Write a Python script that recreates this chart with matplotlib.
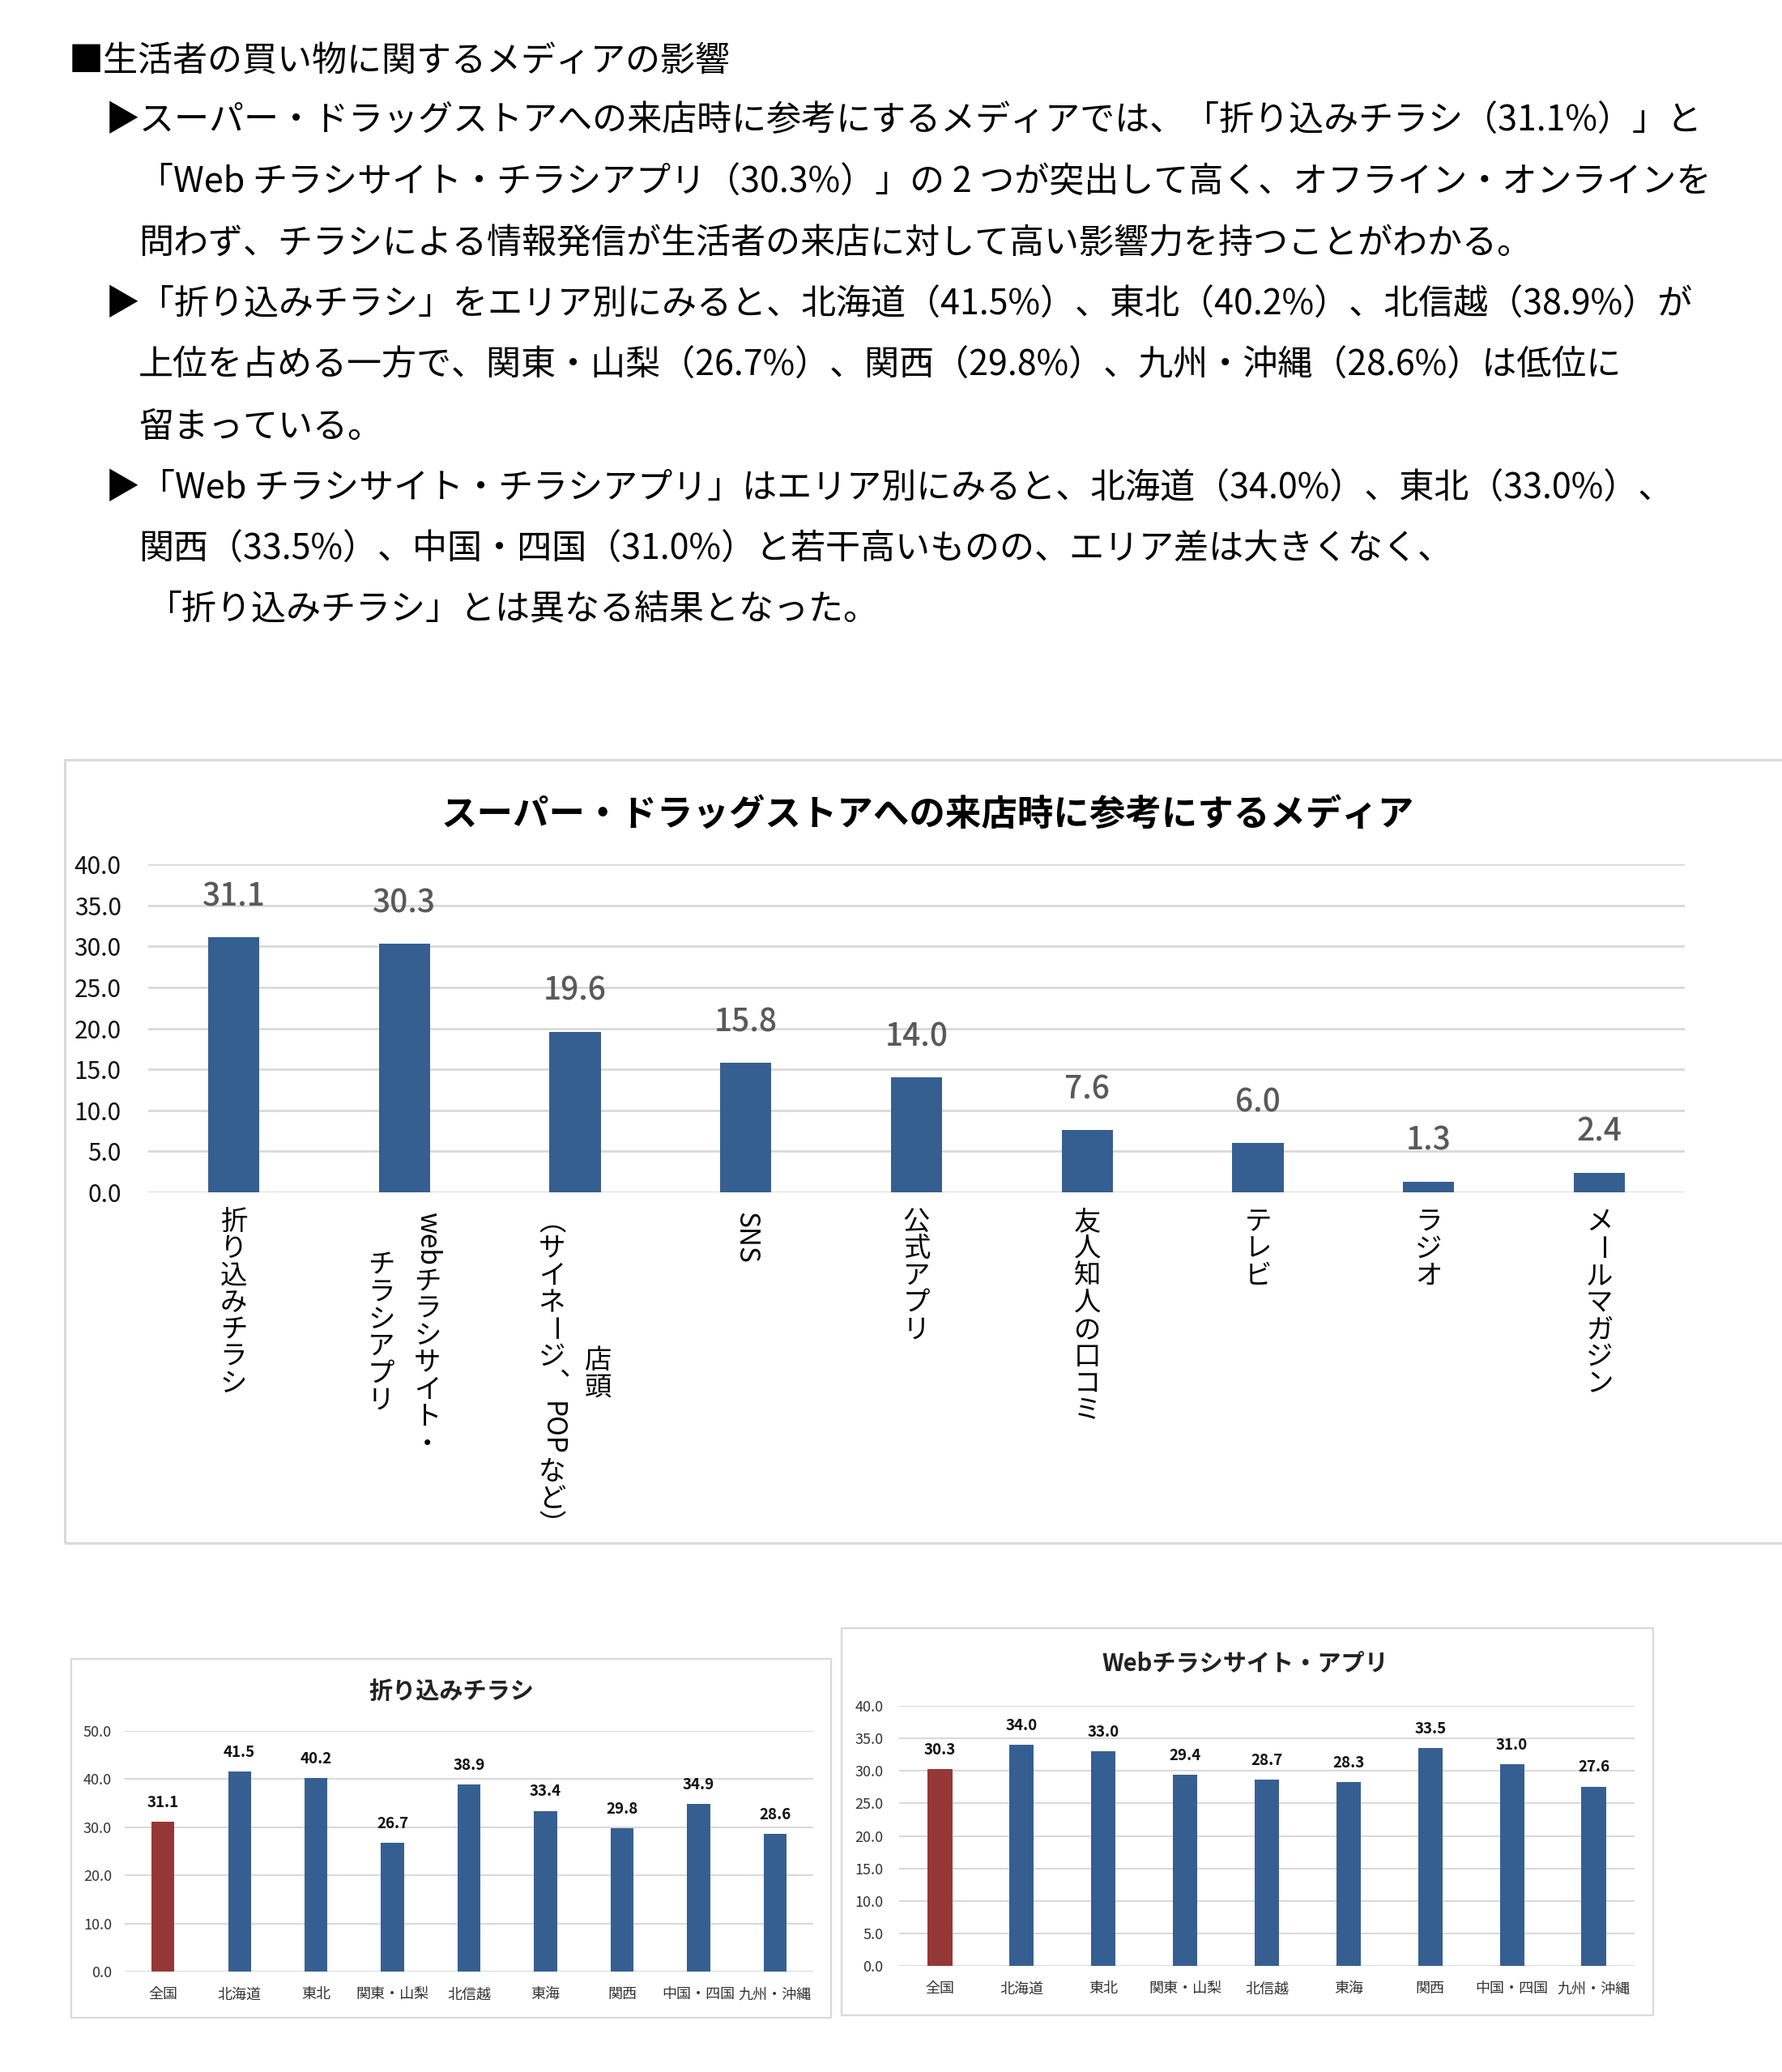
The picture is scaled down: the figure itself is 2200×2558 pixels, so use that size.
import matplotlib
matplotlib.use("Agg")
import matplotlib.pyplot as plt
import matplotlib.font_manager as fm
from matplotlib.patches import Rectangle
from matplotlib.transforms import offset_copy
import numpy as np

plt.rcParams['font.family'] = ['Noto Sans CJK JP', 'DejaVu Sans']

# ---------------- data ----------------
body_lines = [
    "■生活者の買い物に関するメディアの影響",
    "▶スーパー・ドラッグストアへの来店時に参考にするメディアでは、「折り込みチラシ（31.1%）」と",
    "「Web チラシサイト・チラシアプリ（30.3%）」の 2 つが突出して高く、オフライン・オンラインを",
    "問わず、チラシによる情報発信が生活者の来店に対して高い影響力を持つことがわかる。",
    "▶「折り込みチラシ」をエリア別にみると、北海道（41.5%）、東北（40.2%）、北信越（38.9%）が",
    "上位を占める一方で、関東・山梨（26.7%）、関西（29.8%）、九州・沖縄（28.6%）は低位に",
    "留まっている。",
    "▶「Web チラシサイト・チラシアプリ」はエリア別にみると、北海道（34.0%）、東北（33.0%）、",
    "関西（33.5%）、中国・四国（31.0%）と若干高いものの、エリア差は大きくなく、",
    "「折り込みチラシ」とは異なる結果となった。",
]

main_title = "スーパー・ドラッグストアへの来店時に参考にするメディア"
main_categories = ["折り込みチラシ", "webチラシサイト・\nチラシアプリ", "店頭\n（サイネージ、POPなど）",
                   "SNS", "公式アプリ", "友人知人の口コミ", "テレビ", "ラジオ", "メールマガジン"]
main_values = [31.1, 30.3, 19.6, 15.8, 14.0, 7.6, 6.0, 1.3, 2.4]

regions = ["全国", "北海道", "東北", "関東・山梨", "北信越", "東海", "関西", "中国・四国", "九州・沖縄"]
flyer_title = "折り込みチラシ"
flyer_values = [31.1, 41.5, 40.2, 26.7, 38.9, 33.4, 29.8, 34.9, 28.6]
web_title = "Webチラシサイト・アプリ"
web_values = [30.3, 34.0, 33.0, 29.4, 28.7, 28.3, 33.5, 31.0, 27.6]

BLUE = "#365F91"
RED = "#953735"
GRID = "#d9d9d9"

W, H = 2200, 2558
DPI = 100
fig = plt.figure(figsize=(W / DPI, H / DPI), dpi=DPI)
fig.patch.set_facecolor("white")


def fx(px):
    return px / W


def fy(py):
    return 1 - py / H


# ---------------- body text ----------------
line_y = [76, 150, 226, 301, 377, 452, 528, 604, 679, 752]
line_x = [85, 130, 171, 171, 130, 171, 171, 130, 171, 181]
for s, xx, yy in zip(body_lines, line_x, line_y):
    fig.text(fx(xx), fy(yy), s, fontsize=31, va="center", ha="left", color="#000000")

# ---------------- boxes ----------------
def box(x0, y0, x1, y1, lw=2):
    fig.patches.append(Rectangle((fx(x0), fy(y1)), fx(x1) - fx(x0), fy(y0) - fy(y1),
                                 transform=fig.transFigure, fill=False, edgecolor=GRID, lw=lw))

box(80, 938, 2215, 1905, lw=2.2)
box(88, 2048, 1026, 2491, lw=1.6)
box(1039, 2010, 2041, 2488, lw=1.6)


def style_axes(ax, ymax, ystep, tick_fs, pad, tick_color):
    ax.set_ylim(0, ymax)
    ax.set_yticks(np.arange(0, ymax + 0.01, ystep))
    ax.yaxis.set_major_formatter(matplotlib.ticker.FormatStrFormatter("%.1f"))
    ax.grid(axis="y", color=GRID, lw=2)
    ax.set_axisbelow(True)
    for sp in ax.spines.values():
        sp.set_visible(False)
    ax.tick_params(axis="y", length=0, labelsize=tick_fs, pad=pad, labelcolor=tick_color)
    ax.set_facecolor("none")


# ---------------- main chart ----------------
ax = fig.add_axes([fx(183), fy(1472), fx(2080) - fx(183), fy(1067) - fy(1472)])
x = np.arange(len(main_values))
ax.bar(x, main_values, width=0.30, color=BLUE)
ax.set_xlim(-0.5, len(main_values) - 0.5)
style_axes(ax, 40, 5, 21.5, 24, "#111111")
ax.set_xticks(x)
ax.tick_params(axis="x", length=0, labelbottom=False)
for xi, v in zip(x, main_values):
    ax.annotate(f"{v:.1f}", (xi, v), xytext=(0, 36), textcoords="offset points",
                ha="center", va="center", fontsize=28, fontweight="medium", color="#595959")
fig.text(fx(1145), fy(1006), main_title, fontsize=32, fontweight="bold",
         ha="center", va="center", color="#000000")

# vertical (tate-gaki) category labels
renderer = fig.canvas.get_renderer()
vfp = fm.FontProperties(family=["Noto Sans CJK JP", "DejaVu Sans"], size=24)
em = 24 * DPI / 72
ROT = set("ー")
VFORM = {"（": "︵", "）": "︶", "、": "︑"}


def tokens(s):
    toks, buf = [], ""
    for ch in s:
        if ord(ch) < 128 and ch != " ":
            buf += ch
        else:
            if buf:
                toks.append(("latin", buf))
                buf = ""
            toks.append(("cjk", ch))
    if buf:
        toks.append(("latin", buf))
    return toks


def vertical_label(ax, xd, label, top_px=20, gap_px=57, color="#000000"):
    cols = label.split("\n")
    data = []
    for col in cols:
        items, length = [], 0.0
        for kind, s in tokens(col):
            if kind == "latin":
                w, h, d = renderer.get_text_width_height_descent(s, vfp, ismath=False)
                L = w + 0.25 * em
            else:
                L = em
            items.append((kind, s, length, L))
            length += L
        data.append((items, length))
    maxlen = max(l for _, l in data)
    n = len(cols)
    base = ax.get_xaxis_transform()
    for ci, (items, length) in enumerate(data):
        dx = ((n - 1) / 2 - ci) * gap_px
        start = top_px + (maxlen - length) / 2
        for kind, s, pos, L in items:
            cy = -(start + pos + L / 2)
            ox, oy, rot = 0, 0, 0
            if kind == "latin" or s in ROT:
                rot = -90
            if s == "、":
                ox = 0.2 * em
            s = VFORM.get(s, s)
            tr = offset_copy(base, fig=fig, x=dx + ox, y=cy + oy, units="dots")
            ax.text(xd, 0, s, transform=tr, rotation=rot, ha="center", va="center",
                    fontproperties=vfp, color=color)


for xi, lab in zip(x, main_categories):
    vertical_label(ax, xi, lab)

# ---------------- small charts ----------------
def small_chart(rect, values, ymax, ystep, title, title_xy, tick_pad):
    a = fig.add_axes(rect)
    xs = np.arange(len(values))
    colors = [RED] + [BLUE] * (len(values) - 1)
    a.bar(xs, values, width=0.30, color=colors)
    a.set_xlim(-0.5, len(values) - 0.5)
    style_axes(a, ymax, ystep, 13, tick_pad, "#333333")
    a.grid(axis="y", color=GRID, lw=1.5)
    a.set_xticks(xs)
    a.set_xticklabels(regions, fontsize=13, color="#333333")
    a.tick_params(axis="x", length=0, pad=14)
    for xi, v in zip(xs, values):
        a.annotate(f"{v:.1f}", (xi, v), xytext=(0, 17), textcoords="offset points",
                   ha="center", va="center", fontsize=13.5, fontweight="bold", color="#111111")
    fig.text(fx(title_xy[0]), fy(title_xy[1]), title, fontsize=21, fontweight="bold",
             ha="center", va="center", color="#222222")
    return a


small_chart([fx(154), fy(2434), fx(1004) - fx(154), fy(2137) - fy(2434)],
            flyer_values, 50, 10, flyer_title, (557, 2088), 11.5)
small_chart([fx(1110), fy(2427), fx(2018) - fx(1110), fy(2106) - fy(2427)],
            web_values, 40, 5, web_title, (1537, 2054), 14)

fig.savefig("out.png", dpi=DPI, facecolor="white")
